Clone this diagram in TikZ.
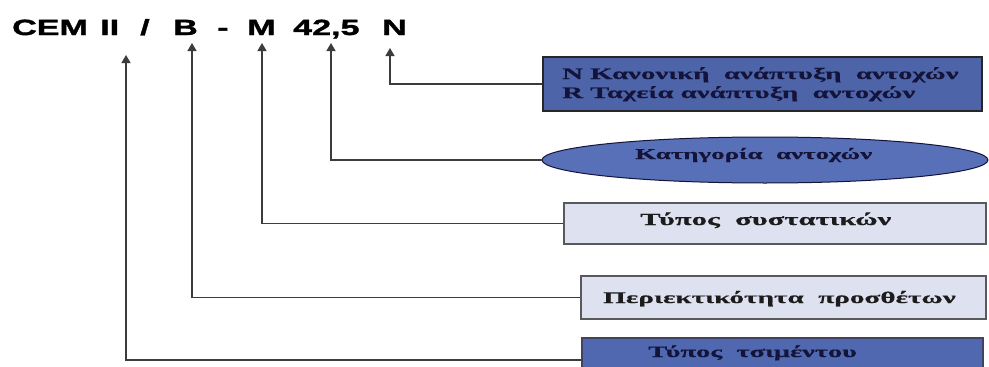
\documentclass[tikz,border=0pt]{standalone}
\usepackage{fontspec}
\usetikzlibrary{arrows.meta,shapes.geometric}
\newfontfamily\titlefont[FakeStretch=1.55,FakeBold=1.6]{Liberation Sans}
\newfontfamily\grfont[FakeStretch=1.8,FakeBold=0.6]{Liberation Serif}
\definecolor{linegray}{HTML}{3C3C3C}
\definecolor{darkfill}{HTML}{4E64A8}
\definecolor{ellfill}{HTML}{5870B8}
\definecolor{b4fill}{HTML}{5068B0}
\definecolor{lightfill}{HTML}{DEE1F0}
\definecolor{navytext}{HTML}{14143A}
\definecolor{darktext}{HTML}{1C1C1C}
\begin{document}
\begin{tikzpicture}[x=1pt,y=-1pt,
  titletxt/.style={font=\titlefont\bfseries\fontsize{22}{22}\selectfont, inner sep=0pt, anchor=base west},
  grtxt/.style={font=\grfont\bfseries\fontsize{#1}{#1}\selectfont, inner sep=0pt, anchor=base west},
  conn/.style={draw=linegray, line width=1.3pt, -{Triangle[width=9pt,length=8pt]}},
  darkbox/.style={draw=black!85, line width=1.5pt, fill=darkfill, inner sep=0pt},
  lightbox/.style={draw=black!65, line width=1.2pt, fill=lightfill, inner sep=0pt},
  bluebox/.style={draw=navytext!80, line width=1.2pt, fill=b4fill, inner sep=0pt},
  ellbox/.style={ellipse, draw=navytext, line width=1pt, fill=ellfill, inner sep=0pt}]
\useasboundingbox (0,0) rectangle (989,367);
\clip (0,0) rectangle (989,367);
\fill[white] (0,0) rectangle (989,367);

% title tokens
\node[titletxt] (cem) at (12,35) {CEM};
\node[titletxt] (two) at (100,35) {II};
\node[titletxt] (sl) at (140,35) {/};
\node[titletxt] (bb) at (173,35) {B};
\node[titletxt] (da) at (217,35) {-};
\node[titletxt] (mm) at (247,35) {M};
\node[titletxt] (num) at (293,35) {42,5};
\node[titletxt] (nn) at (382,35) {N};

% arrow tips
\coordinate (tII) at (126,55);
\coordinate (tB) at (192,43);
\coordinate (tM) at (262,43);
\coordinate (tN4) at (331,43);
\coordinate (tN) at (390,48);

% boxes
\node[darkbox, minimum width=439pt, minimum height=54pt] (b1) at (762.5,84) {};
\node[ellbox, minimum width=446pt, minimum height=46pt] (e) at (765,160) {};
\node[lightbox, minimum width=422pt, minimum height=41pt] (b2) at (775,223.5) {};
\node[lightbox, minimum width=405pt, minimum height=43pt] (b3) at (783.5,297.5) {};
\node[bluebox, minimum width=401pt, minimum height=44pt] (b4) at (782.5,360) {};

% texts
\node[grtxt=16, text=navytext] (b1a) at (562,79) {N Κανονική\ \ ανάπτυξη\ \ αντοχών};
\node[grtxt=16, text=navytext] (b1b) at (562,98) {R Ταχεία ανάπτυξη\ \ αντοχών};
\node[grtxt=15, text=navytext] (et) at (635,159) {Κατηγορία\ \ αντοχών};
\node[grtxt=17, text=darktext] (b2t) at (640,225) {Τύπος\ \ συστατικών};
\node[grtxt=16.2, text=darktext] (b3t) at (603,303) {Περιεκτικότητα\ \ προσθέτων};
\node[grtxt=15.8, text=navytext] (b4t) at (648,357) {Τύπος\ \ τσιμέντου};

% connectors
\draw[conn] (b1.west) -| (tN);
\draw[conn] (e.west) -| (tN4);
\draw[conn] (b2.west) -| (tM);
\draw[conn] (b3.west) -| (tB);
\draw[conn] (b4.west) -| (tII);
\end{tikzpicture}
\end{document}
